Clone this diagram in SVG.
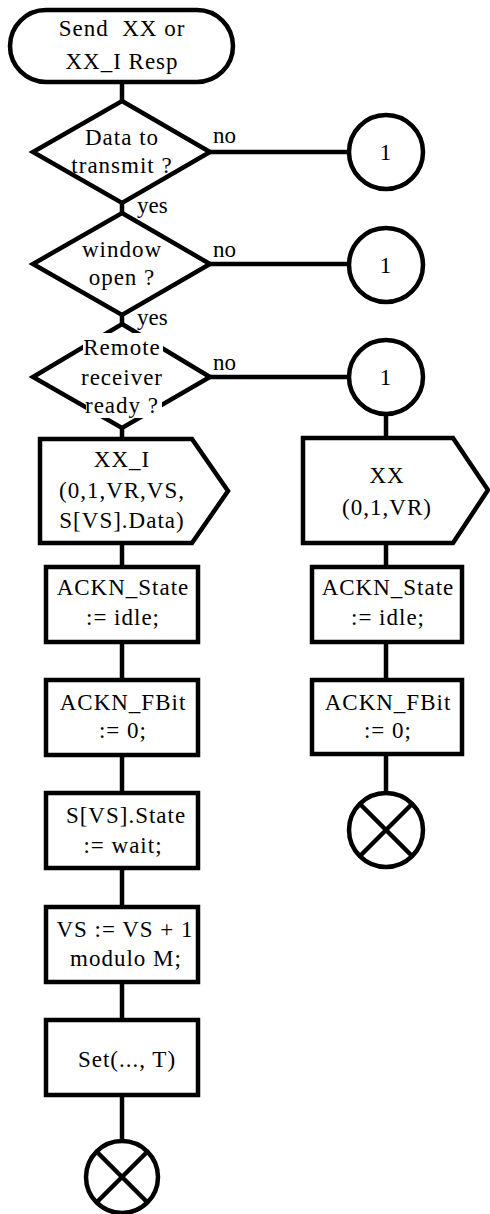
<svg xmlns="http://www.w3.org/2000/svg" width="490" height="1214" viewBox="0 0 490 1214" font-family="'Liberation Serif', 'Times New Roman', serif" font-size="23">
<style>
.s{fill:none;stroke:#000;stroke-width:4.5;stroke-linejoin:miter}
.w{fill:#fff;stroke:#000;stroke-width:4.5}
.c{fill:none;stroke:#000;stroke-width:4.5}
text{fill:#000;text-anchor:middle;letter-spacing:1px}
.l{text-anchor:start;letter-spacing:0}
</style>
<rect width="490" height="1214" fill="#fff"/>
<g id="connectors">
<line class="c" x1="122" y1="82" x2="122" y2="101"/>
<line class="c" x1="122" y1="203" x2="122" y2="213"/>
<line class="c" x1="122" y1="315" x2="122" y2="324"/>
<line class="c" x1="122" y1="428" x2="122" y2="439"/>
<line class="c" x1="210" y1="152" x2="349" y2="152"/>
<line class="c" x1="210" y1="264" x2="349" y2="264"/>
<line class="c" x1="210" y1="377" x2="349" y2="377"/>
<line class="c" x1="386" y1="414" x2="386" y2="438"/>
<line class="c" x1="122" y1="543" x2="122" y2="567"/>
<line class="c" x1="122" y1="642" x2="122" y2="680"/>
<line class="c" x1="122" y1="755" x2="122" y2="793"/>
<line class="c" x1="122" y1="868" x2="122" y2="907"/>
<line class="c" x1="122" y1="982" x2="122" y2="1020"/>
<line class="c" x1="122" y1="1095" x2="122" y2="1141"/>
<line class="c" x1="386" y1="543" x2="386" y2="567"/>
<line class="c" x1="386" y1="642" x2="386" y2="680"/>
<line class="c" x1="386" y1="754" x2="386" y2="793"/>
<text class="l" x="213" y="143">no</text>
<text class="l" x="213" y="257">no</text>
<text class="l" x="213" y="370">no</text>
<text class="l" x="137" y="213">yes</text>
<text class="l" x="137" y="325">yes</text>
</g>
<g id="start">
<rect class="w" x="10" y="10" width="223" height="72" rx="36" ry="36"/>
<text x="122" y="36" xml:space="preserve">Send  XX or</text>
<text x="122" y="69">XX_I Resp</text>
</g>
<g id="d1">
<polygon class="w" points="122,101 210,152 122,203 33,152"/>
<text x="122" y="145">Data to</text>
<text x="122" y="173">transmit ?</text>
</g>
<g id="d2">
<polygon class="w" points="122,213 210,264 122,315 33,264"/>
<text x="122" y="257">window</text>
<text x="122" y="285">open ?</text>
</g>
<g id="d3">
<polygon class="w" points="122,324 210,377 122,428 33,377"/>
<rect x="83" y="333" width="80" height="26" fill="#fff"/>
<rect x="86" y="396" width="76" height="22" fill="#fff"/>
<text x="122" y="355">Remote</text>
<text x="122" y="385">receiver</text>
<text x="122" y="413">ready ?</text>
</g>
<g id="conn1a"><circle class="w" cx="386" cy="152" r="37"/><text x="386" y="160">1</text></g>
<g id="conn1b"><circle class="w" cx="386" cy="265" r="37"/><text x="386" y="273">1</text></g>
<g id="conn1c"><circle class="w" cx="386" cy="377" r="37"/><text x="386" y="385">1</text></g>
<g id="out_xxi">
<path class="w" d="M40,439 H192 L228,491 L192,543 H40 Z"/>
<text x="122" y="467">XX_I</text>
<text x="122" y="498">(0,1,VR,VS,</text>
<text x="122" y="528">S[VS].Data)</text>
</g>
<g id="l_state">
<rect class="w" x="46" y="567" width="152" height="75"/>
<text x="123" y="595">ACKN_State</text>
<text x="123" y="625">:= idle;</text>
</g>
<g id="l_fbit">
<rect class="w" x="46" y="680" width="152" height="75"/>
<text x="123" y="710">ACKN_FBit</text>
<text x="123" y="738">:= 0;</text>
</g>
<g id="l_sstate">
<rect class="w" x="46" y="793" width="152" height="75"/>
<text x="126" y="823">S[VS].State</text>
<text x="123" y="853">:= wait;</text>
</g>
<g id="l_vs">
<rect class="w" x="46" y="907" width="152" height="75"/>
<text x="125" y="937">VS := VS + 1</text>
<text x="126" y="966">modulo M;</text>
</g>
<g id="l_set">
<rect class="w" x="46" y="1020" width="152" height="75"/>
<text x="127" y="1067">Set(..., T)</text>
</g>
<g id="l_end">
<circle class="w" cx="122" cy="1177" r="36"/>
<path class="c" d="M96.5,1151.5 L147.5,1202.5 M147.5,1151.5 L96.5,1202.5"/>
</g>
<g id="out_xx">
<path class="w" d="M303,438 H453 L488,490 L453,543 H303 Z"/>
<text x="387" y="483">XX</text>
<text x="387" y="515">(0,1,VR)</text>
</g>
<g id="r_state">
<rect class="w" x="312" y="567" width="150" height="75"/>
<text x="388" y="595">ACKN_State</text>
<text x="388" y="625">:= idle;</text>
</g>
<g id="r_fbit">
<rect class="w" x="312" y="680" width="150" height="74"/>
<text x="388" y="710">ACKN_FBit</text>
<text x="388" y="738">:= 0;</text>
</g>
<g id="r_end">
<circle class="w" cx="386" cy="830" r="37"/>
<path class="c" d="M360,804 L412,856 M412,804 L360,856"/>
</g>
</svg>
